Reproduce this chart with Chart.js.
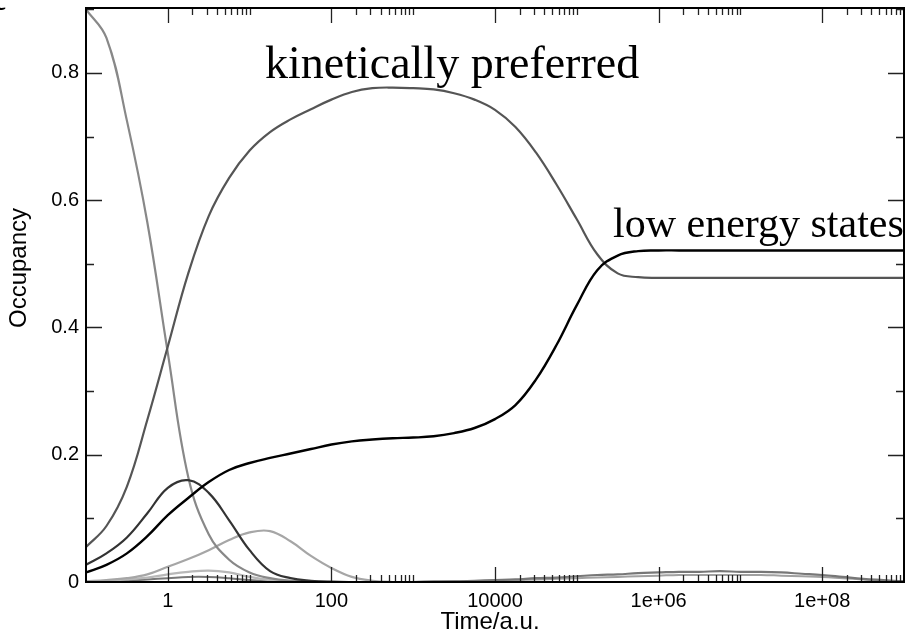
<!DOCTYPE html>
<html>
<head>
<meta charset="utf-8">
<script src="https://cdn.jsdelivr.net/npm/chart.js@4"></script>
<style>
  html, body { margin: 0; padding: 0; background: #fff; }
  #wrap { width: 916px; height: 643px; }
</style>
</head>
<body>
<div id="wrap"><canvas id="occChart" width="916" height="643"></canvas></div>
<script>
// time grid as log10(time/a.u.)
const logTime = [-1, -0.75, -0.5, -0.25, 0, 0.25, 0.5, 0.75, 1, 1.25, 1.5, 1.75, 2, 2.25, 2.5, 2.75,
                 3, 3.25, 3.5, 3.75, 4, 4.25, 4.5, 4.75, 5, 5.25, 5.5, 5.75, 6, 6.25, 6.5, 6.75,
                 7, 7.25, 7.5, 7.75, 8, 8.25, 8.5, 8.75, 9];

const lowEnergy = [0.015, 0.027, 0.045, 0.072, 0.105, 0.132, 0.157, 0.176, 0.187, 0.195, 0.202, 0.209, 0.216, 0.221, 0.224, 0.226,
                   0.227, 0.229, 0.234, 0.242, 0.256, 0.278, 0.318, 0.372, 0.435, 0.49, 0.513, 0.52, 0.521, 0.521, 0.521, 0.521,
                   0.521, 0.521, 0.521, 0.521, 0.521, 0.521, 0.521, 0.521, 0.521];
const kinetic = [0.055, 0.088, 0.15, 0.255, 0.37, 0.485, 0.575, 0.635, 0.678, 0.707, 0.727, 0.743, 0.758, 0.77, 0.776, 0.777,
                 0.776, 0.774, 0.768, 0.758, 0.742, 0.715, 0.675, 0.625, 0.57, 0.515, 0.485, 0.479, 0.478, 0.478, 0.478, 0.478,
                 0.478, 0.478, 0.478, 0.478, 0.478, 0.478, 0.478, 0.478, 0.478];
const initial = [0.9, 0.855, 0.725, 0.565, 0.36, 0.165, 0.075, 0.035, 0.015, 0.006, 0.002, 0.001, 0, 0, 0, 0,
                 0, 0, 0, 0, 0, 0, 0, 0, 0, 0, 0, 0, 0, 0, 0, 0,
                 0, 0, 0, 0, 0, 0, 0, 0, 0];
const earlyPeak = [0.027, 0.045, 0.07, 0.108, 0.148, 0.16, 0.14, 0.097, 0.05, 0.017, 0.006, 0.002, 0.0005, 0, 0, 0,
                   0, 0, 0, 0, 0, 0, 0, 0, 0, 0, 0, 0, 0, 0, 0, 0,
                   0, 0, 0, 0, 0, 0, 0, 0, 0];
const midPeak = [0.001, 0.003, 0.006, 0.012, 0.024, 0.036, 0.05, 0.066, 0.078, 0.08, 0.064, 0.041, 0.022, 0.008, 0.002, 0,
                 0, 0, 0, 0, 0, 0, 0, 0, 0, 0, 0, 0, 0, 0, 0, 0,
                 0, 0, 0, 0, 0, 0, 0, 0, 0];
const smallPeakA = [0.001, 0.002, 0.004, 0.007, 0.012, 0.016, 0.018, 0.015, 0.008, 0.003, 0.001, 0, 0, 0, 0, 0,
                    0, 0, 0, 0, 0, 0, 0, 0, 0, 0, 0, 0, 0, 0, 0, 0,
                    0, 0, 0, 0, 0, 0, 0, 0, 0];
const smallPeakB = [0, 0.001, 0.002, 0.004, 0.006, 0.008, 0.008, 0.006, 0.003, 0.001, 0, 0, 0, 0, 0, 0,
                    0, 0, 0, 0, 0, 0, 0, 0, 0, 0, 0, 0, 0, 0, 0, 0,
                    0, 0, 0, 0, 0, 0, 0, 0, 0];
const latePeakA = [0, 0, 0, 0, 0, 0, 0, 0, 0, 0, 0, 0, 0, 0, 0, 0,
                   0, 0.001, 0.001, 0.002, 0.003, 0.004, 0.006, 0.007, 0.009, 0.011, 0.012, 0.014, 0.015, 0.016, 0.016, 0.017,
                   0.016, 0.016, 0.015, 0.013, 0.011, 0.008, 0.005, 0.003, 0.001];
const latePeakB = [0, 0, 0, 0, 0, 0, 0, 0, 0, 0, 0, 0, 0, 0, 0, 0,
                   0, 0, 0.001, 0.001, 0.002, 0.003, 0.004, 0.005, 0.006, 0.007, 0.008, 0.009, 0.01, 0.011, 0.011, 0.011,
                   0.011, 0.011, 0.01, 0.009, 0.008, 0.006, 0.004, 0.002, 0.001];

const xTickValues = [1, 100, 1e4, 1e6, 1e8];
const xTickLabels = ["1", "100", "10000", "1e+06", "1e+08"];
const yTickValues = [0, 0.2, 0.4, 0.6, 0.8];
const yTickLabels = ["0", "0.2", "0.4", "0.6", "0.8"];

const times = logTime.map(k => Math.pow(10, k));
const toPoints = arr => arr.map((v, i) => ({ x: times[i], y: v }));

function series(data, color, width) {
    return {
        data: toPoints(data),
        borderColor: color,
        borderWidth: width,
        pointRadius: 0,
        fill: false,
        tension: 0.4
    };
}

// inward tick marks, frame and text labels
const framePlugin = {
    id: 'frame',
    afterDatasetsDraw(chart) {
        const { ctx, chartArea: a, scales } = chart;
        const xs = scales.x, ys = scales.y;
        ctx.save();
        ctx.strokeStyle = '#222';
        ctx.lineWidth = 1.3;
        ctx.beginPath();
        // x ticks: major at labelled decades, minor in the decade after each
        xTickValues.forEach(v => {
            const px = Math.round(xs.getPixelForValue(v)) + 0.5;
            ctx.moveTo(px, a.bottom); ctx.lineTo(px, a.bottom - 15);
            ctx.moveTo(px, a.top); ctx.lineTo(px, a.top + 15);
            for (let m = 2; m <= 10; m++) {
                const q = Math.round(xs.getPixelForValue(v * m)) + 0.5;
                if (q > a.right) continue;
                ctx.moveTo(q, a.bottom); ctx.lineTo(q, a.bottom - 7);
                ctx.moveTo(q, a.top); ctx.lineTo(q, a.top + 7);
            }
        });
        // y ticks: major and minor, left and right
        for (let j = 1; j <= 9; j++) {
            const v = j / 10;
            const py = Math.round(ys.getPixelForValue(v)) + 0.5;
            const len = j % 2 === 0 ? 16 : 8;
            ctx.moveTo(a.left, py); ctx.lineTo(a.left + len, py);
            ctx.moveTo(a.right, py); ctx.lineTo(a.right - len, py);
        }
        ctx.stroke();

        // annotations
        ctx.fillStyle = '#000';
        ctx.font = '46px "Liberation Serif"';
        ctx.textAlign = 'left';
        ctx.textBaseline = 'alphabetic';
        ctx.fillText('kinetically preferred', 265, 78);
        ctx.font = '42px "Liberation Serif"';
        ctx.fillText('low energy states', 613, 237);

        // frame
        ctx.strokeStyle = '#000';
        ctx.lineWidth = 2;
        ctx.strokeRect(a.left, a.top, a.right - a.left, a.bottom - a.top);

        // axis titles
        ctx.font = '24px "Liberation Sans"';
        ctx.textAlign = 'center';
        ctx.textBaseline = 'middle';
        ctx.fillText('Time/a.u.', 490, 622);
        ctx.save();
        ctx.translate(19, 268);
        ctx.rotate(-Math.PI / 2);
        ctx.fillText('Occupancy', 0, 0);
        ctx.restore();

        // panel letter, mostly cut off at the corner
        ctx.font = 'bold 34px "Liberation Serif"';
        ctx.textAlign = 'left';
        ctx.textBaseline = 'alphabetic';
        ctx.fillText('c', -9, 10);
        ctx.restore();
    }
};

document.addEventListener("DOMContentLoaded", function () {
    const ctx = document.getElementById("occChart");

    new Chart(ctx, {
        type: 'line',
        data: {
            datasets: [
                series(lowEnergy, '#000000', 2.4),
                series(earlyPeak, '#333333', 2.2),
                series(kinetic, '#555555', 2.2),
                series(initial, '#888888', 2.2),
                series(midPeak, '#a6a6a6', 2.2),
                series(smallPeakA, '#b8b8b8', 2.2),
                series(smallPeakB, '#777777', 2),
                series(latePeakA, '#777777', 2.2),
                series(latePeakB, '#a0a0a0', 2)
            ]
        },
        options: {
            responsive: false,
            animation: false,
            devicePixelRatio: 1,
            layout: { padding: { top: 8, right: 12, left: 0, bottom: 0 } },
            plugins: {
                legend: { display: false },
                tooltip: { enabled: false }
            },
            scales: {
                x: {
                    type: 'logarithmic',
                    min: 0.1,
                    max: 1e9,
                    grid: { display: false, drawTicks: false },
                    border: { display: false },
                    afterBuildTicks: function (scale) {
                        scale.ticks = xTickValues.map(v => ({ value: v }));
                    },
                    afterFit: function (scale) {
                        scale.height = 61;
                        scale.paddingLeft = 0;
                        scale.paddingRight = 0;
                    },
                    ticks: {
                        autoSkip: false,
                        maxRotation: 0,
                        padding: 7,
                        color: '#000',
                        font: { family: '"Liberation Sans"', size: 20 },
                        callback: function (value, index) {
                            return xTickLabels[index];
                        }
                    }
                },
                y: {
                    type: 'linear',
                    min: 0,
                    max: 0.902,
                    grid: { display: false, drawTicks: false },
                    border: { display: false },
                    afterBuildTicks: function (scale) {
                        scale.ticks = yTickValues.map(v => ({ value: v }));
                    },
                    afterFit: function (scale) {
                        scale.width = 86;
                        scale.paddingTop = 0;
                        scale.paddingBottom = 0;
                    },
                    ticks: {
                        padding: 7,
                        color: '#000',
                        font: { family: '"Liberation Sans"', size: 20 },
                        callback: function (value, index) {
                            return yTickLabels[index];
                        }
                    }
                }
            }
        },
        plugins: [framePlugin]
    });
});
</script>
</body>
</html>
